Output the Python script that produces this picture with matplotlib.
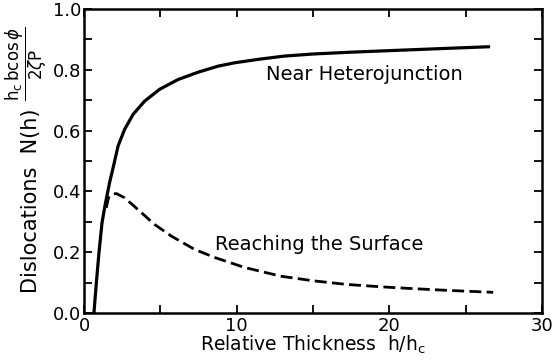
import matplotlib
matplotlib.use("Agg")
import matplotlib.pyplot as plt
from matplotlib.ticker import MultipleLocator, FormatStrFormatter

plt.rcParams['font.family'] = ['DejaVu Sans']
plt.rcParams['mathtext.fontset'] = 'dejavusans'

# Near heterojunction (solid)
x_het = [0.65, 0.81, 0.98, 1.18, 1.40, 1.68, 1.93, 2.23, 2.66, 3.21, 3.97, 4.96, 6.16,
         7.47, 8.78, 9.86, 11.5, 13.1, 15.0, 17.5, 20.0, 23.0, 26.6]
y_het = [0.0, 0.10, 0.198, 0.297, 0.36, 0.43, 0.483, 0.549, 0.604, 0.653, 0.697, 0.736, 0.768,
         0.792, 0.812, 0.823, 0.835, 0.845, 0.852, 0.858, 0.863, 0.869, 0.876]

# Reaching the surface (dashed)
x_surf = [1.46, 1.61, 1.8, 2.12, 2.66, 3.54, 4.63, 5.72, 7.25, 8.6, 10.5, 12.9, 15.0,
          17.2, 19.5, 21.6, 24.0, 26.8]
y_surf = [0.346, 0.38, 0.39, 0.393, 0.379, 0.34, 0.291, 0.253, 0.209, 0.182, 0.15, 0.121, 0.106,
          0.094, 0.086, 0.080, 0.074, 0.068]

W, H = 553, 362
fig = plt.figure(figsize=(W/100, H/100), dpi=100)
ax = fig.add_axes([84/W, 1-313/H, (542-84)/W, (313-9)/H])

ax.plot(x_surf, y_surf, color='black', lw=2.0, dashes=(4.3, 1.9), zorder=2)
ax.plot(x_het, y_het, color='black', lw=2.3, solid_capstyle='butt', zorder=3)

ax.set_xlim(0, 30)
ax.set_ylim(0, 1.0)
ax.xaxis.set_major_locator(MultipleLocator(10))
ax.xaxis.set_minor_locator(MultipleLocator(5))
ax.yaxis.set_major_locator(MultipleLocator(0.2))
ax.yaxis.set_minor_locator(MultipleLocator(0.1))
ax.yaxis.set_major_formatter(FormatStrFormatter('%.1f'))

ax.tick_params(which='both', direction='in', top=True, right=True, width=1.3,
               length=6, labelsize=13)
ax.tick_params(axis='x', pad=3)
ax.tick_params(axis='y', pad=2)
for s in ax.spines.values():
    s.set_linewidth(1.8)

ax.text(11.95, 0.785, 'Near Heterojunction', fontsize=14, va='center')
ax.text(8.6, 0.225, 'Reaching the Surface', fontsize=14, va='center')

ax.set_xlabel(r'Relative Thickness  h/h$_\mathrm{c}$', fontsize=13.5, labelpad=-1)

# y label: text part and fraction part
fig.text(31/W, 1-201/H, 'Dislocations  N(h)', rotation=90, fontsize=15,
         ha='center', va='center')
fig.text(26/W, 1-64/H,
         r'$\dfrac{\mathrm{h}_\mathrm{c}\,\mathrm{bcos}\,\phi}{2\zeta \mathrm{P}}$',
         rotation=90, fontsize=12, ha='center', va='center')

fig.savefig('out.png', dpi=100)
